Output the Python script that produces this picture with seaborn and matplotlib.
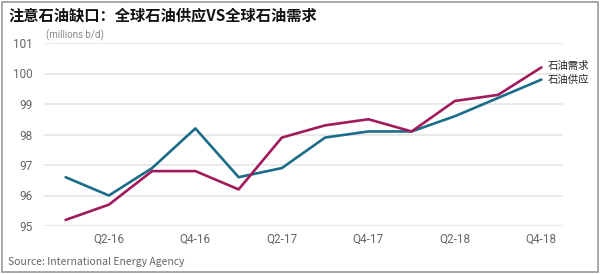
import matplotlib
matplotlib.use("Agg")
import matplotlib.pyplot as plt
import seaborn as sns
import pandas as pd
from matplotlib.patches import Rectangle

quarters = ["Q1-16", "Q2-16", "Q3-16", "Q4-16", "Q1-17", "Q2-17",
            "Q3-17", "Q4-17", "Q1-18", "Q2-18", "Q3-18", "Q4-18"]
supply = [96.6, 96.0, 96.9, 98.2, 96.6, 96.9, 97.9, 98.1, 98.1, 98.6, 99.2, 99.8]
demand = [95.2, 95.7, 96.8, 96.8, 96.2, 97.9, 98.3, 98.5, 98.1, 99.1, 99.3, 100.2]
tick_labels = ["Q2-16", "Q4-16", "Q2-17", "Q4-17", "Q2-18", "Q4-18"]
yticks = [95, 96, 97, 98, 99, 100, 101]

sns.set_theme(style="white")
plt.rcParams['font.family'] = ['Noto Sans CJK SC', 'DejaVu Sans']

df = pd.DataFrame({"q": list(range(len(quarters))) * 2,
                   "v": supply + demand,
                   "s": ["石油供应"] * len(quarters) + ["石油需求"] * len(quarters)})

fig = plt.figure(figsize=(6.0, 2.74), dpi=100)
ax = fig.add_axes([44 / 600, 1 - 226 / 274, (563 - 44) / 600, (226 - 43) / 274])

teal = "#1b6c88"
magenta = "#a11a5c"
sns.lineplot(data=df, x="q", y="v", hue="s", palette={"石油供应": teal, "石油需求": magenta},
             hue_order=["石油供应", "石油需求"], linewidth=1.9, ax=ax, legend=False, zorder=3)

ax.set_xlim(-0.5, 11.5)
ax.set_ylim(95, 101)
ax.set_yticks(yticks)
ax.set_yticklabels([str(t) for t in yticks], color="#666666", fontsize=8.5, family="Roboto")
ax.set_xticks([quarters.index(t) for t in tick_labels])
ax.set_xticklabels(tick_labels, color="#666666", fontsize=8.5, family="Roboto")
ax.tick_params(axis="y", pad=8, length=0)
ax.tick_params(axis="x", pad=5, length=0)
ax.grid(axis="y", color="#e6e6e6", linewidth=1.2)
ax.set_axisbelow(True)
for sp in ax.spines.values():
    sp.set_visible(False)
ax.set_xlabel("")
ax.set_ylabel("")

ax.text(11.15, demand[-1] + 0.05, "石油需求", fontsize=7.5, color="#222222", va="center", ha="left")
ax.text(11.15, supply[-1] - 0.02, "石油供应", fontsize=7.5, color="#222222", va="center", ha="left")

fig.text(8 / 600, 1 - 15 / 274, "注意石油缺口：全球石油供应VS全球石油需求", fontsize=11,
         fontweight="bold", color="#111111", va="center", ha="left")
fig.text(46 / 600, 1 - 35 / 274, "(millions b/d)", fontsize=7, color="#888888",
         va="center", ha="left", family="Roboto")
fig.text(8 / 600, 1 - 262 / 274, "Source: International Energy Agency", fontsize=7.5,
         color="#666666", va="center", ha="left")

fig.patches.append(Rectangle((2 / 600, 2 / 274), 596 / 600, 270 / 274, transform=fig.transFigure,
                             fill=False, edgecolor="#999999", linewidth=1.2))

fig.savefig("out.png", dpi=100)
